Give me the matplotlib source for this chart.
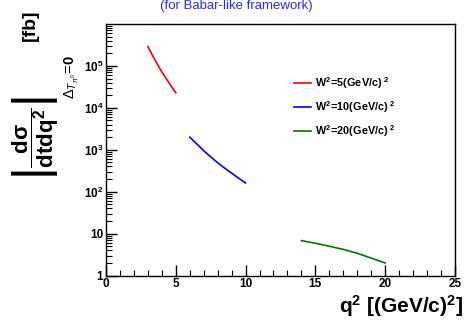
import numpy as np
import matplotlib
matplotlib.use("Agg")
import matplotlib.pyplot as plt
from matplotlib.ticker import FixedLocator, FuncFormatter, LogLocator, NullFormatter

plt.rcParams['font.family'] = ['Liberation Sans', 'DejaVu Sans']
plt.rcParams['mathtext.fontset'] = 'custom'
plt.rcParams['mathtext.rm'] = 'Liberation Sans'
plt.rcParams['mathtext.bf'] = 'Liberation Sans:bold'
plt.rcParams['mathtext.it'] = 'Liberation Sans:italic'
plt.rcParams['mathtext.sf'] = 'Liberation Sans'

# -----------------------------
# data
# -----------------------------
q2_w5 = [3.0, 3.25, 3.5, 3.75, 4.0, 4.25, 4.5, 4.75, 5.0]
xs_w5 = [2.9e5, 2.0e5, 1.4e5, 1.0e5, 7.2e4, 5.4e4, 4.0e4, 3.0e4, 2.3e4]

q2_w10 = [6.0, 6.5, 7.0, 7.5, 8.0, 8.5, 9.0, 9.5, 10.0]
xs_w10 = [2000, 1380, 950, 680, 490, 365, 278, 210, 162]

q2_w20 = [14.0, 15.0, 16.0, 17.0, 18.0, 19.0, 20.0]
xs_w20 = [6.8, 5.9, 5.0, 4.2, 3.4, 2.6, 2.0]

labels = [r'$\mathbf{W^2\!=\!5(GeV/c)\;^2}$',
          r'$\mathbf{W^2\!=\!10(GeV/c)\;^2}$',
          r'$\mathbf{W^2\!=\!20(GeV/c)\;^2}$']
colors = ['#ff0000', '#0000ff', '#007700']

x_ticks = [0, 5, 10, 15, 20, 25]

# -----------------------------
# figure
# -----------------------------
fig = plt.figure(figsize=(4.67, 3.2), dpi=100)
ax = fig.add_axes([0.227, 0.139, 0.747, 0.786])

for q, v, lab, c in zip([q2_w5, q2_w10, q2_w20], [xs_w5, xs_w10, xs_w20], labels, colors):
    ax.plot(q, v, color=c, lw=1.2, label=lab)

ax.set_yscale('log')
ax.set_xlim(0, 25)
ax.set_ylim(1, 1e6)

ax.xaxis.set_major_locator(FixedLocator(x_ticks))
ax.xaxis.set_minor_locator(FixedLocator(np.arange(0, 26, 1)))
ax.yaxis.set_major_locator(FixedLocator([1, 10, 1e2, 1e3, 1e4, 1e5]))
ax.yaxis.set_minor_locator(LogLocator(base=10, subs=np.arange(2, 10), numticks=10))
ax.yaxis.set_minor_formatter(NullFormatter())

def ylab(v, pos):
    e = int(round(np.log10(v)))
    if e == 0:
        return '1'
    if e == 1:
        return '10'
    return r'$\mathbf{10^{%d}}$' % e

ax.yaxis.set_major_formatter(FuncFormatter(ylab))

ax.tick_params(which='both', direction='in', top=False, right=False)
ax.tick_params(which='major', length=8, width=1, labelsize=8.5, pad=2)
ax.tick_params(which='minor', length=4, width=0.8)
for t in ax.get_xticklabels() + ax.get_yticklabels():
    t.set_fontweight('bold')
for s in ax.spines.values():
    s.set_linewidth(1.0)

ax.legend(loc='upper left', bbox_to_anchor=(0.51, 0.835), frameon=False,
          fontsize=7.8, handlelength=1.6, handletextpad=0.4, labelspacing=0.75)

# title
fig.text(0.505, 0.999, '(for Babar-like framework)', color='#2828ff',
         fontsize=9.5, ha='center', va='top')

# axis titles
fig.text(0.992, 0.004, r'$\mathbf{q^2\ [(GeV/c)^2]}$', fontsize=15,
         ha='right', va='bottom')
fig.text(0.064, 0.92, '[fb]', fontsize=14, fontweight='bold', rotation=90,
         ha='center', va='center')
fig.text(0.076, 0.568,
         r'$\left|\mathbf{\dfrac{d\sigma}{dtdq^2}}\right|$',
         fontsize=16, rotation=90, ha='center', va='center')
fig.text(0.155, 0.76, r'$\Delta_{T_{\pi^0}}\!=\!\mathbf{0}$',
         fontsize=10.5, rotation=90, ha='center', va='center')

fig.savefig('out.png', dpi=100)
